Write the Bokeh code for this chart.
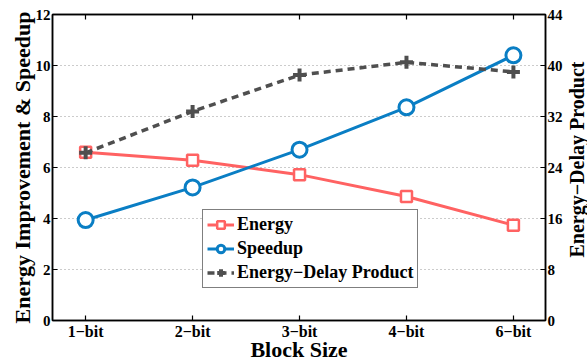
import math
from bokeh.plotting import figure
from bokeh.layouts import row
from bokeh.models import Range1d, LinearAxis, FixedTicker, Legend, LegendItem
from bokeh.core.properties import value
from bokeh.embed import file_html
from bokeh.resources import INLINE

# ---- data ----
block_sizes = ["1\u2212bit", "2\u2212bit", "3\u2212bit", "4\u2212bit", "6\u2212bit"]
energy = [6.6, 6.28, 5.72, 4.86, 3.74]
speedup = [3.94, 5.22, 6.70, 8.36, 10.40]
edp = [26.3, 32.8, 38.5, 40.5, 39.0]
left_ticks = [0, 2, 4, 6, 8, 10, 12]
right_ticks = [0, 8, 16, 24, 32, 40, 48]
right_labels = ["0", "8", "16", "24", "32", "40", "44"]
right_title = "Energy\u2212Delay Product"

xs = list(range(1, len(block_sizes) + 1))

FONT = "Liberation Serif"
C_EN = "#FF6262"
C_SP = "#0A7EC4"
C_EDP = "#4F4F4F"

p = figure(width=565, height=364, output_backend="svg", toolbar_location=None,
           x_range=Range1d(0.69, 5.30), y_range=Range1d(0, 12),
           min_border_top=14, min_border_left=52, min_border_right=17, min_border_bottom=41)
p.extra_y_ranges = {"edp": Range1d(0, 48)}

p.outline_line_color = "black"
p.outline_line_width = 1.5
p.xgrid.visible = False
p.ygrid.ticker = FixedTicker(ticks=left_ticks)
p.ygrid.grid_line_color = "#999999"
p.ygrid.grid_line_dash = "1 3"
p.ygrid.grid_line_width = 1

def style_axis(ax):
    ax.major_tick_in = 5
    ax.major_tick_out = 0
    ax.minor_tick_in = 0
    ax.minor_tick_out = 0
    ax.axis_line_color = "black"
    ax.axis_line_width = 1.5
    ax.major_tick_line_width = 1.2
    ax.major_label_text_font = FONT
    ax.major_label_text_font_style = "bold"
    ax.major_label_text_font_size = "15px"
    ax.major_label_text_color = "black"
    ax.axis_label_text_font = FONT
    ax.axis_label_text_font_style = "bold"
    ax.axis_label_text_font_size = "22px"
    ax.axis_label_text_color = "black"
    ax.major_label_standoff = 2
    ax.axis_label_standoff = 0

# bottom x axis
xa = p.xaxis[0]
xa.ticker = FixedTicker(ticks=xs)
xa.major_label_overrides = {x: lab for x, lab in zip(xs, block_sizes)}
xa.axis_label = "Block Size"
style_axis(xa)
xa.major_label_text_font_size = "16px"
xa.axis_label_standoff = -6

# left y axis
ya = p.yaxis[0]
ya.ticker = FixedTicker(ticks=left_ticks)
ya.axis_label = "Energy Improvement & Speedup"
style_axis(ya)
ya.axis_label_standoff = -2

# right y axis (title drawn in the strip next to it)
ra = LinearAxis(y_range_name="edp", ticker=FixedTicker(ticks=right_ticks))
ra.major_label_overrides = {t: l for t, l in zip(right_ticks, right_labels)}
style_axis(ra)
p.add_layout(ra, "right")

# top axis (ticks only)
ta = LinearAxis(ticker=FixedTicker(ticks=xs))
style_axis(ta)
ta.major_label_overrides = {x: "" for x in xs}
ta.major_label_text_font_size = "1px"
ta.major_label_standoff = 0
p.add_layout(ta, "above")

# series
l_en = p.line(xs, energy, line_color=C_EN, line_width=3)
s_en = p.scatter(xs, energy, marker="square", size=11, line_color=C_EN, line_width=2.5, fill_color="white")
l_sp = p.line(xs, speedup, line_color=C_SP, line_width=3)
s_sp = p.scatter(xs, speedup, marker="circle", size=15, line_color=C_SP, line_width=3, fill_color="white")
l_ed = p.line(xs, edp, y_range_name="edp", line_color=C_EDP, line_width=3.5, line_dash="7 5")
s_ed = p.scatter(xs, edp, y_range_name="edp", marker="cross", size=13, line_color=C_EDP, line_width=4)

legend = Legend(items=[
    LegendItem(label="Energy", renderers=[l_en, s_en]),
    LegendItem(label="Speedup", renderers=[l_sp, s_sp]),
    LegendItem(label="Energy\u2212Delay Product", renderers=[l_ed, s_ed]),
], location=(150, 32))
legend.label_text_font = FONT
legend.label_text_font_style = "bold"
legend.label_text_font_size = "18px"
legend.label_text_color = "black"
legend.border_line_color = "black"
legend.border_line_width = 1.5
legend.background_fill_alpha = 1
legend.glyph_width = 27
legend.glyph_height = 19
legend.label_height = 19
legend.label_standoff = 3
legend.spacing = 3
legend.padding = 4
legend.margin = 0
p.add_layout(legend, "center")

# narrow strip holding the right axis title (reads bottom-to-top)
p2 = figure(width=22, height=364, output_backend="svg", toolbar_location=None,
            x_range=Range1d(0, 1), y_range=Range1d(0, 1),
            x_axis_type=None, y_axis_type=None,
            min_border_top=0, min_border_left=0, min_border_right=0, min_border_bottom=0)
p2.outline_line_color = None
p2.grid.visible = False
p2.text(x=[0.5], y=[0.526], text=[right_title], angle=math.pi / 2,
        text_align="center", text_baseline="middle", text_color="black",
        text_font=value(FONT), text_font_style="bold", text_font_size="20px")

layout = row(p, p2, spacing=0)
open("out.html", "w").write(file_html(layout, INLINE))
